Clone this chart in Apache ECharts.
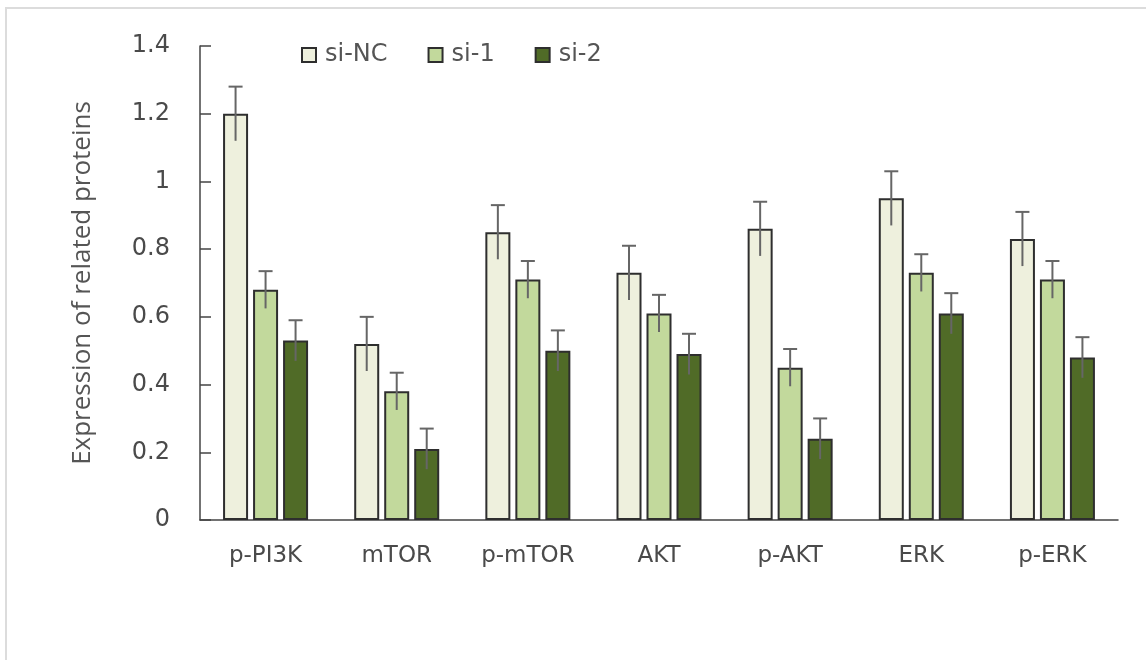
<!DOCTYPE html>
<html>
<head>
<meta charset="utf-8">
<script src="https://cdn.jsdelivr.net/npm/echarts@6/dist/echarts.min.js"></script>
<style>
  html, body { margin: 0; padding: 0; background: #fff; }
  #main { width: 1146px; height: 660px; }
</style>
</head>
<body>
<div id="main"></div>
<script>
var myChart = echarts.init(document.getElementById('main'));

// categories and values
var categories = ['p-PI3K', 'mTOR', 'p-mTOR', 'AKT', 'p-AKT', 'ERK', 'p-ERK'];
var yTicks = [0, 0.2, 0.4, 0.6, 0.8, 1, 1.2, 1.4];
var siNC = [1.20, 0.52, 0.85, 0.73, 0.86, 0.95, 0.83];
var si1  = [0.68, 0.38, 0.71, 0.61, 0.45, 0.73, 0.71];
var si2  = [0.53, 0.21, 0.50, 0.49, 0.24, 0.61, 0.48];
// error bars (±)
var errNC = [0.08, 0.08, 0.08, 0.08, 0.08, 0.08, 0.08];
var err1  = [0.055, 0.055, 0.055, 0.055, 0.055, 0.055, 0.055];
var err2  = [0.06, 0.06, 0.06, 0.06, 0.06, 0.06, 0.06];

var txtFont = 'DejaVu Sans';
var barW = 25;
var step = 30; // bar width + gap

function errData(vals, errs) {
    var out = [];
    for (var i = 0; i < vals.length; i++) {
        out.push([i, vals[i], errs[i]]);
    }
    return out;
}

function errRender(offset) {
    return function (params, api) {
        var x = api.value(0), v = api.value(1), e = api.value(2);
        var top = api.coord([x, v + e]);
        var bot = api.coord([x, v - e]);
        var cx = top[0] + offset;
        var cap = 7;
        var st = { stroke: '#666', lineWidth: 2 };
        return {
            type: 'group',
            children: [
                { type: 'line', shape: { x1: cx, y1: top[1], x2: cx, y2: bot[1] }, style: st },
                { type: 'line', shape: { x1: cx - cap, y1: top[1], x2: cx + cap, y2: top[1] }, style: st }
            ]
        };
    };
}

function barSeries(name, data, color) {
    return {
        name: name,
        type: 'bar',
        data: data,
        barWidth: barW,
        barGap: '20%',
        itemStyle: { color: color, borderColor: '#2e2e2e', borderWidth: 2 }
    };
}

function errSeries(name, vals, errs, offset) {
    return {
        name: name,
        type: 'custom',
        renderItem: errRender(offset),
        encode: { x: 0, y: 1 },
        data: errData(vals, errs),
        z: 5,
        silent: true
    };
}

option = {
    backgroundColor: '#fff',
    animation: false,
    graphic: [{
        type: 'polyline',
        shape: { points: [[6, 660], [6, 8], [1146, 8]] },
        style: { stroke: '#dcdcdc', lineWidth: 2, fill: null }
    }],
    legend: {
        data: ['si-NC', 'si-1', 'si-2'],
        left: 296,
        top: 38,
        icon: 'rect',
        itemWidth: 14,
        itemHeight: 14,
        itemGap: 40,
        textStyle: { fontFamily: txtFont, fontSize: 24, color: '#555', padding: [0, 0, 0, 4] }
    },
    grid: { left: 200, right: 28, top: 46, bottom: 140 },
    xAxis: {
        type: 'category',
        data: categories,
        axisLine: { lineStyle: { color: '#444', width: 1.5 } },
        axisTick: { inside: true, length: 10, lineStyle: { color: '#444', width: 1.5 } },
        axisLabel: { fontFamily: txtFont, fontSize: 23, color: '#4a4a4a', margin: 25 }
    },
    yAxis: {
        type: 'value',
        min: 0,
        max: 1.4,
        interval: 0.2,
        name: 'Expression of related proteins',
        nameLocation: 'middle',
        nameGap: 104,
        nameTextStyle: { fontFamily: 'Open Sans', fontSize: 26, color: '#555' },
        axisLine: { show: true, lineStyle: { color: '#444', width: 1.5 } },
        axisTick: { show: true, inside: true, length: 11, lineStyle: { color: '#444', width: 1.5 } },
        splitLine: { show: false },
        axisLabel: {
            fontFamily: txtFont, fontSize: 24, color: '#4a4a4a', margin: 30,
            formatter: function (v) {
                for (var i = 0; i < yTicks.length; i++) {
                    if (Math.abs(yTicks[i] - v) < 1e-6) return String(yTicks[i]);
                }
                return '';
            }
        }
    },
    series: [
        barSeries('si-NC', siNC, '#eef0dd'),
        barSeries('si-1', si1, '#c2d99c'),
        barSeries('si-2', si2, '#506b27'),
        errSeries('errNC', siNC, errNC, -step),
        errSeries('err1', si1, err1, 0),
        errSeries('err2', si2, err2, step)
    ]
};

myChart.setOption(option);
</script>
</body>
</html>
